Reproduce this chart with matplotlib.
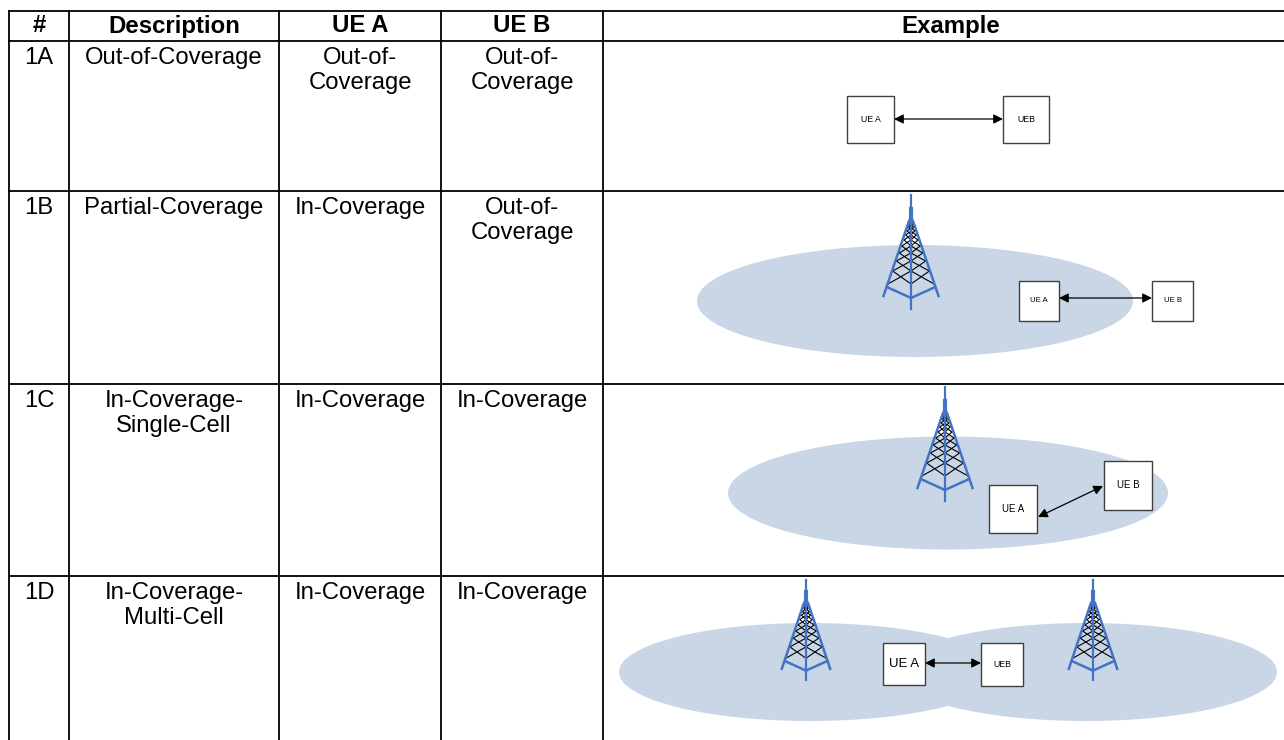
"""Coverage scenario table 1A-1D with UE A / UE B sketches."""

import matplotlib
matplotlib.use("Agg")
import matplotlib.pyplot as plt
from matplotlib.patches import Ellipse, Rectangle

plt.rcParams["font.family"] = ["Liberation Sans", "DejaVu Sans"]

WIDTH, HEIGHT = 1284, 740

# table grid, in image pixels
COL_X = [9, 69, 279, 441, 603, 1290]
ROW_Y = [11, 41, 191, 384, 576, 745]

HEADERS = ["#", "Description", "UE A", "UE B", "Example"]
IDS = ["1A", "1B", "1C", "1D"]
DESCRIPTIONS = ["Out-of-Coverage", "Partial-Coverage", "In-Coverage-\nSingle-Cell", "In-Coverage-\nMulti-Cell"]
UE_A = ["Out-of-\nCoverage", "In-Coverage", "In-Coverage", "In-Coverage"]
UE_B = ["Out-of-\nCoverage", "Out-of-\nCoverage", "In-Coverage", "In-Coverage"]

# (cx, cy, width, height)
CELLS = [(915, 301, 436, 112), (948, 493, 440, 113), (810, 672, 382, 98), (1086, 672, 382, 98)]
# (mast x, mast top y, scale)
TOWERS = [(911, 195, 1.0), (945, 387, 1.0), (806, 580, 0.88), (1093, 580, 0.88)]
# (left, top, right, bottom, label, font size)
BOXES = [
    (847, 96, 894, 143, "UE A", 6.3), (1003, 96, 1049, 143, "UEB", 6.3),
    (1019, 281, 1059, 321, "UE A", 5.6), (1152, 281, 1193, 321, "UE B", 5.6),
    (989, 485, 1037, 533, "UE A", 7), (1104, 461, 1152, 510, "UE B", 7),
    (883, 643, 925, 685, "UE A", 9.5), (981, 643, 1023, 686, "UEB", 6.3),
]
# (x0, y0, x1, y1)
LINKS = [
    (894, 119, 1003, 119), (1059, 298, 1152, 298),
    (1038, 517, 1103, 486), (925, 663, 981, 663),
]

CELL_COLOR = "#c9d6e6"
TOWER_COLOR = "#4472c4"
# lattice levels below the apex, as offsets at scale 1
LATTICE_DY = [0, 3, 6, 10, 14, 19, 25, 32, 40, 50, 63]


def draw_tower(ax, x, top, s):
    apex = top + 26 * s
    foot = top + 101 * s
    half = 27.5 * s

    def leg_x(y):
        return half * (y - apex) / (foot - apex)

    levels = [apex + d * s for d in LATTICE_DY]
    for y0, y1 in zip(levels[:-1], levels[1:]):
        for sign in (-1, 1):
            ax.plot([x + sign * leg_x(y0), x], [y0, y1], color="black", lw=0.8, zorder=3)
            ax.plot([x, x + sign * leg_x(y1)], [y0, y1], color="black", lw=0.8, zorder=3)
    # mast, thicker stub and the legs on top of the lattice
    ax.plot([x, x], [top, top + 114 * s], color=TOWER_COLOR, lw=1.6, zorder=4)
    ax.plot([x, x], [top + 14 * s, apex], color=TOWER_COLOR, lw=3, zorder=4)
    for sign in (-1, 1):
        ax.plot([x + sign * 2, x + sign * half], [apex, foot], color=TOWER_COLOR, lw=1.8, zorder=4)
        ax.plot([x + sign * leg_x(top + 92 * s), x], [top + 92 * s, top + 103 * s],
                color=TOWER_COLOR, lw=1.8, zorder=4)


fig = plt.figure(figsize=(WIDTH / 100, HEIGHT / 100), dpi=100)
ax = fig.add_axes([0, 0, 1, 1])
ax.set_xlim(0, WIDTH)
ax.set_ylim(HEIGHT, 0)
ax.axis("off")

# grid
for x in COL_X[:-1]:
    ax.plot([x, x], [ROW_Y[0], ROW_Y[-1]], color="black", lw=1.3, zorder=6)
for y in ROW_Y[:-1]:
    ax.plot([COL_X[0], COL_X[-1]], [y, y], color="black", lw=1.3, zorder=6)

# text
for i, h in enumerate(HEADERS):
    ax.text((COL_X[i] + COL_X[i + 1] + (8 if i == 4 else 0)) / 2, 32.5, h, ha="center", va="baseline",
            fontsize=17.3, fontweight="bold")
for i, top in enumerate(ROW_Y[1:5]):
    for j, col in enumerate([IDS, DESCRIPTIONS, UE_A, UE_B]):
        ax.text((COL_X[j] + COL_X[j + 1]) / 2, top + 6, col[i], ha="center", va="top",
                fontsize=17.2, linespacing=1.2)

# coverage cells
for cx, cy, w, h in CELLS:
    ax.add_patch(Ellipse((cx, cy), w, h, facecolor=CELL_COLOR, edgecolor="none", zorder=1))
for x, top, s in TOWERS:
    draw_tower(ax, x, top, s)

# UE boxes and links
for left, top, right, bottom, label, size in BOXES:
    ax.add_patch(Rectangle((left, top), right - left, bottom - top, facecolor="white",
                           edgecolor="#404040", lw=1.0, zorder=5))
    ax.text((left + right) / 2, (top + bottom) / 2, label, ha="center", va="center",
            fontsize=size, zorder=7)
for x0, y0, x1, y1 in LINKS:
    ax.annotate("", xy=(x1, y1), xytext=(x0, y0), zorder=7,
                arrowprops=dict(arrowstyle="<|-|>", color="black", lw=0.9, mutation_scale=14,
                                shrinkA=0, shrinkB=0))

fig.savefig("out.png", dpi=100)
plt.close(fig)
